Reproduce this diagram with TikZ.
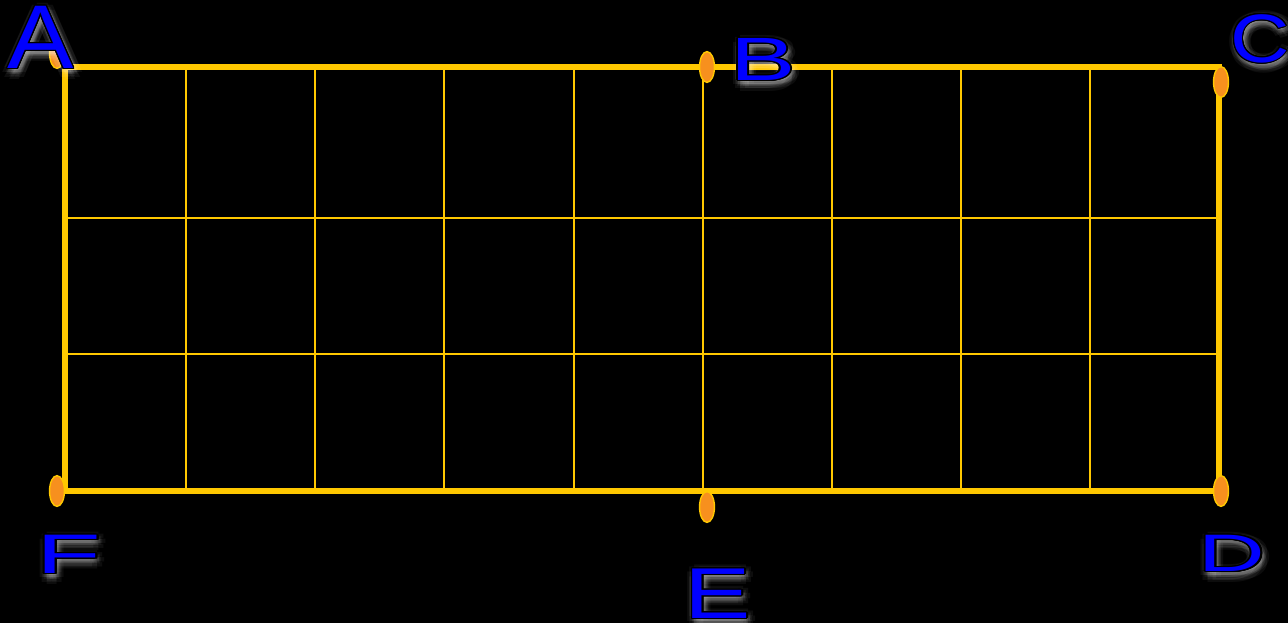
\documentclass[tikz,border=0pt]{standalone}
\usepackage{fontspec}
\setmainfont{Liberation Sans}
\usepackage[copies]{contour}
\usetikzlibrary{shapes.geometric,calc}
\definecolor{gold}{RGB}{255,200,0}
\definecolor{amber}{RGB}{247,144,30}
\definecolor{letterblue}{RGB}{0,0,255}
\contourlength{0.6pt}

% letter with a soft halo: name, x, y, size, stretch, text
\newcommand\cornerlabel[6]{%
  \foreach \ang in {0,45,...,315}
    \foreach \rad in {2,4,7}
      \node[glow,font=\fontsize{#4}{#4}\selectfont] at ($(#2,#3)+(\ang:\rad)+(2,3)$) {\scalebox{#5}[1]{#6}};
  \node[letter,font=\fontsize{#4}{#4}\selectfont] (#1) at (#2,#3) {\scalebox{#5}[1]{\contour{black}{#6}}};}

\begin{document}
\begin{tikzpicture}[x=0.02cm,y=-0.02cm,
    frame/.style={draw=gold,line width=3.1pt},
    gridline/.style={draw=gold,line width=1.6pt},
    marker/.style={ellipse,draw=gold,fill=amber,line width=0.8pt,inner sep=0pt,minimum width=8.5pt,minimum height=17.5pt},
    glow/.style={text=white,opacity=0.05,inner sep=0pt},
    letter/.style={text=letterblue,inner sep=0pt}]
  \fill[black] (0,0) rectangle (1288,623);
  \useasboundingbox (0,0) rectangle (1288,623);
  \coordinate (nw) at (65,67);
  \coordinate (se) at (1219,491);
  % grid
  \foreach \x in {186,315,444,574,703,832,961,1090}
    \draw[gridline] (\x,67) -- (\x,491);
  \foreach \y in {218,354}
    \draw[gridline] (65,\y) -- (1219,\y);
  \draw[frame] (nw) rectangle (se);
  % markers
  \node[marker] (mA) at (57,53) {};
  \node[marker] (mB) at (707,67) {};
  \node[marker] (mC) at (1221,82) {};
  \node[marker] (mD) at (1221,491) {};
  \node[marker] (mE) at (707,507) {};
  \node[marker] (mF) at (57,491) {};
  % labels
  \cornerlabel{lA}{41}{38}{51.5pt}{1.1}{A}
  \cornerlabel{lB}{763}{60}{34.8pt}{1.6}{B}
  \cornerlabel{lC}{1260}{39}{39pt}{1.2}{C}
  \cornerlabel{lD}{1232}{554}{30pt}{1.75}{D}
  \cornerlabel{lE}{718}{594}{41pt}{1.38}{E}
  \cornerlabel{lF}{69}{555}{31.7pt}{1.9}{F}
\end{tikzpicture}
\end{document}
